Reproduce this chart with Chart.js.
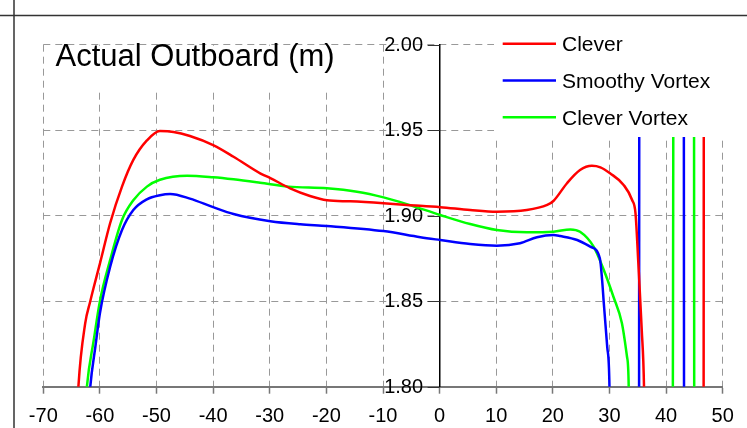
<!DOCTYPE html>
<html>
<head>
<meta charset="utf-8">
<script src="https://cdn.jsdelivr.net/npm/chart.js@4.4.0/dist/chart.umd.min.js"></script>
<style>
html,body{margin:0;padding:0;background:#fff;overflow:hidden}
#wrap{width:747px;height:428px;position:relative}
</style>
</head>
<body>
<div id="wrap"><canvas id="c" width="747" height="428"></canvas></div>
<script>
const chartTitle = 'Actual Outboard (m)';
const seriesNames = ['Clever', 'Smoothy Vortex', 'Clever Vortex'];
const seriesColors = ['#ff0000', '#0000ff', '#00ff00'];
const xTicks = [-70, -60, -50, -40, -30, -20, -10, 0, 10, 20, 30, 40, 50];
const yTicks = [1.80, 1.85, 1.90, 1.95, 2.00];

const cleverX = [-64.0, -63.8, -62.6, -61.7, -61.1, -60.0, -58.2, -56.1, -54.1, -51.7, -49.4, -47.0, -44.1, -40.0, -36.4, -31.7, -29.9, -26.4, -22.9, -19.9, -15.8, -9.9, -5.8, 0.1, 5.4, 10.1, 15.4, 19.0, 20.1, 22.5, 24.8, 26.9, 28.4, 30.1, 32.5, 34.0, 34.6, 35.1, 35.7, 36.1, 36.5, 46.6, 46.7, 50];
const cleverY = [1.785, 1.80, 1.837, 1.85, 1.858, 1.872, 1.8956, 1.917, 1.9326, 1.944, 1.9495, 1.949, 1.9466, 1.9413, 1.9345, 1.9248, 1.922, 1.916, 1.9115, 1.909, 1.9084, 1.9073, 1.9063, 1.905, 1.9033, 1.9023, 1.9033, 1.9063, 1.9086, 1.919, 1.9267, 1.9292, 1.9283, 1.9248, 1.918, 1.9092, 1.9014, 1.8722, 1.8332, 1.80, 1.70, 1.70, 2.10, 2.10];

const smoothyX = [-61.9, -61.7, -60.8, -60.0, -58.2, -56.1, -54.1, -51.7, -49.4, -47.6, -44.1, -40.0, -36.4, -29.9, -24.6, -19.9, -9.9, -3.4, 0.1, 5.4, 10.1, 14.2, 17.2, 20.1, 21.3, 24.3, 26.6, 28.3, 28.7, 29.0, 29.6, 30.0, 30.3, 35.2, 35.3, 43.1, 43.2, 50];
const smoothyY = [1.79, 1.80, 1.8234, 1.843, 1.870, 1.8916, 1.9033, 1.9096, 1.912, 1.9127, 1.910, 1.905, 1.901, 1.8968, 1.895, 1.894, 1.891, 1.8874, 1.8858, 1.8835, 1.8825, 1.8839, 1.8874, 1.8887, 1.8881, 1.8858, 1.8819, 1.8751, 1.8624, 1.8488, 1.8234, 1.80, 1.70, 1.70, 2.10, 2.10, 1.70, 1.70];

const cleverVortexX = [-62.5, -62.3, -61.1, -60.0, -58.2, -56.1, -54.1, -51.7, -49.4, -44.6, -40.0, -36.4, -31.7, -26.7, -19.9, -14.6, -9.9, -5.8, 0.1, 5.4, 10.1, 15.4, 20.1, 23.1, 24.8, 27.2, 29.0, 30.7, 32.2, 33.1, 33.4, 33.6, 41.1, 41.4, 44.9, 45.0, 50];
const cleverVortexY = [1.79, 1.80, 1.827, 1.85, 1.874, 1.8975, 1.909, 1.917, 1.921, 1.9234, 1.9225, 1.9213, 1.9193, 1.917, 1.916, 1.914, 1.9107, 1.9068, 1.9004, 1.8951, 1.8916, 1.8903, 1.8906, 1.892, 1.8906, 1.8819, 1.8682, 1.8526, 1.8371, 1.8175, 1.80, 1.70, 1.70, 2.10, 2.10, 1.70, 1.70];

const FONT = '"Liberation Sans", Arial, Helvetica, sans-serif';
const toPts = (xs, ys) => xs.map((x, i) => ({x: x, y: ys[i]}));
const seriesData = [toPts(cleverX, cleverY), toPts(smoothyX, smoothyY), toPts(cleverVortexX, cleverVortexY)];
const fmtY = v => Number(v).toFixed(2);

const overlay = {
  id: 'overlay',
  beforeDatasetsDraw(chart) {
    const ctx = chart.ctx;
    const xs = chart.scales.x, ys = chart.scales.y;
    const ax = xs.getPixelForValue(0);
    ctx.save();
    // y-axis tick marks and labels, left of the axis at x = 0
    ctx.strokeStyle = '#333';
    ctx.lineWidth = 1.2;
    ctx.beginPath();
    ys.ticks.forEach(t => {
      const py = Math.round(ys.getPixelForValue(t.value)) + 0.5;
      ctx.moveTo(ax - 12, py);
      ctx.lineTo(ax, py);
    });
    ctx.stroke();
    ctx.fillStyle = '#000';
    ctx.font = '20px ' + FONT;
    ctx.textAlign = 'right';
    ctx.textBaseline = 'middle';
    ys.ticks.forEach(t => {
      ctx.fillText(fmtY(t.value), ax - 16.5, ys.getPixelForValue(t.value) + 0.5);
    });
    ctx.restore();
  },
  afterDatasetsDraw(chart) {
    const ctx = chart.ctx, a = chart.chartArea;
    ctx.save();
    ctx.fillStyle = '#fff';
    // title box
    ctx.fillRect(a.left + 2.5, a.top + 1, 305, 45);
    // legend box
    ctx.fillRect(494, 17, chart.width - 494, 137 - 17);
    // title
    ctx.fillStyle = '#000';
    ctx.font = '31px ' + FONT;
    ctx.textBaseline = 'alphabetic';
    ctx.textAlign = 'left';
    ctx.fillText(chartTitle, 55.5, 66);
    // legend
    ctx.font = '21px ' + FONT;
    chart.data.datasets.forEach((ds, i) => {
      const y = 43.7 + i * 36.8;
      ctx.strokeStyle = ds.borderColor;
      ctx.lineWidth = 2.5;
      ctx.beginPath();
      ctx.moveTo(502.7, y);
      ctx.lineTo(556, y);
      ctx.stroke();
      ctx.fillStyle = '#000';
      ctx.fillText(ds.label, 562, y + 7.5);
    });
    ctx.restore();
  },
  afterDraw(chart) {
    const ctx = chart.ctx;
    ctx.save();
    ctx.strokeStyle = '#333';
    ctx.lineWidth = 1.5;
    ctx.beginPath();
    ctx.moveTo(0, 15.5); ctx.lineTo(chart.width, 15.5);
    ctx.moveTo(14, 0); ctx.lineTo(14, chart.height);
    ctx.stroke();
    ctx.restore();
  }
};

new Chart(document.getElementById('c'), {
  type: 'line',
  data: {
    datasets: seriesNames.map((name, i) => ({
      label: name,
      data: seriesData[i],
      borderColor: seriesColors[i],
      backgroundColor: seriesColors[i],
      borderWidth: 2.5,
      pointRadius: 0,
      fill: false,
      cubicInterpolationMode: 'monotone',
      clip: 0
    }))
  },
  options: {
    responsive: false,
    animation: false,
    devicePixelRatio: 1,
    layout: {padding: {left: 43.3, right: 24.3, top: 44.7, bottom: 0}},
    plugins: {legend: {display: false}, tooltip: {enabled: false}, title: {display: false}},
    scales: {
      x: {
        type: 'linear',
        position: 'bottom',
        min: -70, max: 50,
        afterBuildTicks: s => { s.ticks = xTicks.map(v => ({value: v})); },
        afterFit: s => { s.height = 41.3; },
        ticks: {color: '#000', font: {family: FONT, size: 20}, padding: 10.5, maxRotation: 0, autoSkip: false,
                callback: v => String(v)},
        grid: {color: '#999', lineWidth: 1, tickColor: '#777', tickLength: 7, tickWidth: 1.5, tickBorderDash: []},
        border: {color: '#777', width: 2, dash: [7, 5]}
      },
      y: {
        type: 'linear',
        position: {x: 0},
        min: 1.8, max: 2.0,
        afterBuildTicks: s => { s.ticks = yTicks.map(v => ({value: v})); },
        ticks: {display: false, callback: v => fmtY(v)},
        grid: {color: '#999', lineWidth: 1, drawTicks: false},
        border: {color: '#000', width: 1.5, dash: [7, 5]}
      }
    }
  },
  plugins: [overlay]
});
</script>
</body>
</html>
